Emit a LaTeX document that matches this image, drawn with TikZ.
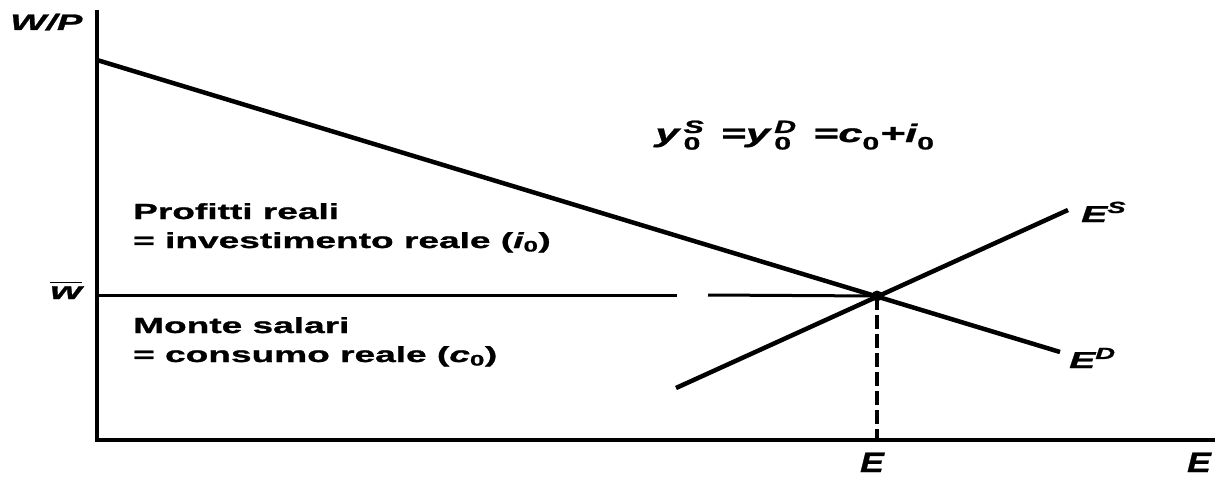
\documentclass[tikz,border=0pt]{standalone}
\usepackage{amsmath}
\usepackage{fontspec}
\setmainfont{Liberation Sans}[FakeStretch=1.7,BoldFeatures={FakeBold=1.2},BoldItalicFeatures={FakeBold=1.2}]
\newcommand{\idx}[2]{\ensuremath{^{\text{#1}}_{\text{\upshape #2}}}}
\begin{document}
\begin{tikzpicture}[x=1pt,y=-1pt,
  axis/.style={line width=3.5pt},
  curve/.style={line width=4.5pt},
  lab/.style={inner sep=0pt,font=\bfseries\itshape},
  txt/.style={inner sep=0pt,anchor=base west,font=\fontsize{21.8}{24}\bfseries}]
\useasboundingbox (0,0) rectangle (1219,479);
\coordinate (O) at (97,440);
\coordinate (Ytop) at (97,10);
\coordinate (Xend) at (1215,440);
\coordinate (D1) at (97,60);
\coordinate (D2) at (1060,352);
\coordinate (S1) at (676,388);
\coordinate (S2) at (1068,210);
\coordinate (Eq) at (877,296);
\coordinate (W0) at (97,295);
\coordinate (Wa) at (677,295);
\coordinate (Wb) at (708,295);
\coordinate (Eb) at (877,440);
% axes
\draw[axis] (Ytop) -- (O) -- (Xend);
% wage line
\draw[line width=3pt] (W0) -- (Wa);
\draw[line width=3pt] (Wb) -- (Eq);
% curves
\draw[curve] (D1) -- (D2);
\draw[curve] (S1) -- (S2);
\draw[line width=3.5pt,dash pattern=on 14pt off 5pt] (Eq) -- (Eb);
\fill (Eq) circle (5.5pt);
% labels
\node[lab,anchor=base west,font=\fontsize{22.5}{22}\bfseries\itshape] (wp) at (10,30) {W/P};
\node[lab,anchor=base west,font=\fontsize{24}{24}\bfseries\itshape] (wbar) at (50,299) {$\overline{\text{w}}$};
\node[lab,anchor=base west,font=\fontsize{23}{23}\bfseries\itshape] (es) at (1081,222) {E\idx{S}{}};
\node[lab,anchor=base west,font=\fontsize{23}{23}\bfseries\itshape] (ed) at (1069,368) {E\idx{D}{}};
\node[lab,anchor=base,font=\fontsize{28}{28}\bfseries\itshape] (ebar) at (872,472) {\scalebox{0.75}[1]{E}};
\node[lab,anchor=base,font=\fontsize{28}{28}\bfseries\itshape] (ex) at (1199,472) {\scalebox{0.75}[1]{E}};
\node[lab,anchor=base west,font=\fontsize{25.5}{25}\bfseries\itshape] (eqn) at (655,142) {y\,\idx{S}{0}\, =y\,\idx{D}{0}\, =c\idx{}{0}+i\idx{}{0}};
\node[txt] (p1) at (133,219) {Profitti reali};
\node[txt] (p2) at (133,248) {= investimento reale ({\itshape i}\textsubscript{0})};
\node[txt] (m1) at (133,333) {Monte salari};
\node[txt] (m2) at (133,362) {= consumo reale ({\itshape c}\textsubscript{0})};
\end{tikzpicture}
\end{document}
